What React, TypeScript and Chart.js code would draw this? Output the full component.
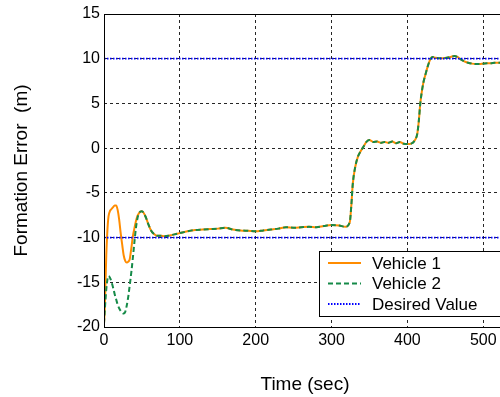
import React, { useEffect, useRef } from "react";
import { Chart, registerables } from "chart.js";

Chart.register(...registerables);

const time = [0,1,2,3,4,5,6,8,10,12,14,16,18,20,22,24,26,28,30,32,34,36,38,40,42,44,46,48,50,52,55,58,62,66,70,75,80,85,90,95,100,110,120,130,140,150,160,170,180,190,200,210,220,230,240,250,260,270,280,290,300,310,318,324,326,328,331,335,338,342,346,350,355,360,365,370,375,380,385,390,395,400,405,410,413,415,417,419,421,424,427,430,433,437,442,447,452,457,462,466,470,475,480,485,490,495,500,505,510,515,520,525];

const vehicle1 = [-19.6,-18,-15,-12,-10,-8.5,-7.6,-7.0,-6.8,-6.6,-6.4,-6.4,-6.9,-8.0,-9.5,-10.8,-12.0,-12.6,-12.8,-12.7,-12.4,-11.2,-9.9,-9.0,-8.2,-7.6,-7.3,-7.1,-7.05,-7.2,-7.7,-8.4,-9.2,-9.6,-9.8,-9.8,-9.85,-9.8,-9.7,-9.6,-9.5,-9.3,-9.15,-9.1,-9.05,-9.0,-8.9,-9.1,-9.2,-9.25,-9.3,-9.2,-9.1,-9.0,-8.85,-8.9,-8.85,-8.8,-8.85,-8.7,-8.6,-8.65,-8.8,-8.3,-6.5,-4.0,-2.2,-0.9,-0.4,0.15,0.7,0.9,0.7,0.75,0.6,0.7,0.6,0.75,0.55,0.7,0.5,0.45,0.5,0.9,1.6,3.0,5.0,6.3,7.3,8.3,9.2,9.9,10.2,10.1,10.05,10.05,10.1,10.2,10.3,10.2,9.95,9.7,9.55,9.45,9.4,9.4,9.45,9.5,9.5,9.55,9.55,9.6];

const vehicle2 = [-19.6,-18.2,-16.9,-15.8,-15.0,-14.5,-14.3,-14.5,-15.0,-15.6,-16.3,-16.9,-17.5,-17.9,-18.2,-18.4,-18.5,-18.3,-17.6,-16.6,-15.3,-13.9,-12.3,-10.6,-9.0,-7.9,-7.3,-7.1,-7.05,-7.2,-7.7,-8.4,-9.2,-9.6,-9.8,-9.8,-9.85,-9.8,-9.7,-9.6,-9.5,-9.3,-9.15,-9.1,-9.05,-9.0,-8.9,-9.1,-9.2,-9.25,-9.3,-9.2,-9.1,-9.0,-8.85,-8.9,-8.85,-8.8,-8.85,-8.7,-8.6,-8.65,-8.8,-8.3,-6.5,-4.0,-2.2,-0.9,-0.4,0.15,0.7,0.9,0.7,0.75,0.6,0.7,0.6,0.75,0.55,0.7,0.5,0.45,0.5,0.9,1.6,3.0,5.0,6.3,7.3,8.3,9.2,9.9,10.2,10.1,10.05,10.05,10.1,10.2,10.3,10.2,9.95,9.7,9.55,9.45,9.4,9.4,9.45,9.5,9.5,9.55,9.55,9.6];

const desiredTime = [0, 530];
const desiredUpper = [10, 10];
const desiredLower = [-10, -10];

const legendLabels = ["Vehicle 1", "Vehicle 2", "Desired Value"];
const xTitle = "Time (sec)";
const yTitle = "Formation Error  (m)";

const ORANGE = "#ff8c00";
const GREEN = "#158a48";
const BLUE = "#0000ff";
const FONT = "'Liberation Sans', Arial, sans-serif";

const toXY = (xs: number[], ys: number[]) => xs.map((x, i) => ({ x, y: ys[i] }));

export default function App() {
  const ref = useRef<HTMLCanvasElement | null>(null);
  useEffect(() => {
    document.body.style.margin = "0";
    document.body.style.overflow = "hidden";
    const canvas = ref.current!;
    const framePlugin = {
      id: "frame",
      afterDatasetsDraw(chart: any) {
        const { ctx, chartArea: a } = chart;
        ctx.save();
        ctx.strokeStyle = "#000";
        ctx.lineWidth = 1;
        ctx.setLineDash([]);
        ctx.strokeRect(Math.round(a.left) + 0.5, Math.round(a.top) + 0.5, Math.round(a.right - a.left), Math.round(a.bottom - a.top));
        ctx.restore();
      },
      afterDraw(chart: any) {
        const { ctx } = chart;
        const bx = 319, by = 251, bw = 181, bh = 65;
        ctx.save();
        ctx.fillStyle = "#fff";
        ctx.fillRect(bx, by, bw, bh);
        ctx.strokeStyle = "#000";
        ctx.lineWidth = 1;
        ctx.strokeRect(bx + 0.5, by + 0.5, bw, bh);
        const styles = [
          { c: ORANGE, d: [] as number[], w: 2 },
          { c: GREEN, d: [5, 3], w: 2 },
          { c: BLUE, d: [1.5, 1.5], w: 1.8 },
        ];
        const rows = [263, 283.5, 304];
        ctx.font = `17px ${FONT}`;
        ctx.textBaseline = "middle";
        legendLabels.forEach((lab, i) => {
          const s = styles[i];
          ctx.beginPath();
          ctx.strokeStyle = s.c;
          ctx.lineWidth = s.w;
          ctx.setLineDash(s.d);
          ctx.moveTo(328, rows[i]);
          ctx.lineTo(361, rows[i]);
          ctx.stroke();
          ctx.setLineDash([]);
          ctx.fillStyle = "#000";
          ctx.fillText(lab, 372, rows[i] + 1);
        });
        ctx.restore();
      },
    };
    const chart = new Chart(canvas, {
      type: "line",
      data: {
        datasets: [
          {
            label: legendLabels[2],
            data: toXY(desiredTime, desiredUpper),
            borderColor: BLUE,
            borderWidth: 1.8,
            borderDash: [1.5, 1.5],
            pointRadius: 0,
            order: 0,
          },
          {
            label: legendLabels[2] + " (lower)",
            data: toXY(desiredTime, desiredLower),
            borderColor: BLUE,
            borderWidth: 1.8,
            borderDash: [1.5, 1.5],
            pointRadius: 0,
            order: 0,
          },
          {
            label: legendLabels[1],
            data: toXY(time, vehicle2),
            borderColor: GREEN,
            borderWidth: 2,
            borderDash: [5, 3],
            pointRadius: 0,
            cubicInterpolationMode: "monotone",
            order: 1,
          },
          {
            label: legendLabels[0],
            data: toXY(time, vehicle1),
            borderColor: ORANGE,
            borderWidth: 2,
            pointRadius: 0,
            cubicInterpolationMode: "monotone",
            order: 2,
          },
        ],
      },
      options: {
        animation: false,
        responsive: false,
        layout: { padding: { left: 0, top: 14, right: 14, bottom: 0 } },
        plugins: { legend: { display: false }, tooltip: { enabled: false } },
        scales: {
          x: {
            type: "linear",
            min: 0,
            max: 530,
            border: { display: false, dash: [3, 3] },
            grid: { color: "rgba(0,0,0,0.85)", lineWidth: 1, drawTicks: false },
            ticks: { stepSize: 100, includeBounds: false, padding: 4, color: "#000", font: { family: FONT, size: 16 } },
            title: { display: true, text: xTitle, color: "#000", font: { family: FONT, size: 19 }, padding: { top: 0, bottom: 1 } },
            afterFit(scale: any) { scale.height = 70; },
          },
          y: {
            type: "linear",
            min: -20,
            max: 15,
            border: { display: false, dash: [3, 3] },
            grid: { color: "rgba(0,0,0,0.85)", lineWidth: 1, drawTicks: false },
            ticks: { stepSize: 5, padding: 4, color: "#000", font: { family: FONT, size: 16 } },
            title: { display: true, text: yTitle, color: "#000", font: { family: FONT, size: 19 }, padding: { top: 10.5, bottom: 0 } },
            afterFit(scale: any) { scale.width = 104; },
          },
        },
      } as any,
      plugins: [framePlugin],
    });
    return () => chart.destroy();
  }, []);
  return (
    <div style={{ width: 500, height: 397, overflow: "hidden", position: "relative" }}>
      <canvas ref={ref} width={520} height={397} style={{ display: "block" }} />
    </div>
  );
}
